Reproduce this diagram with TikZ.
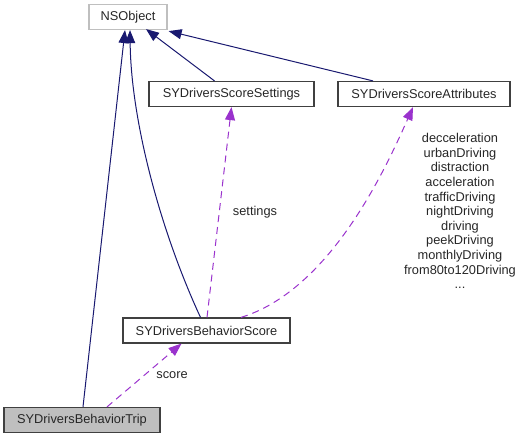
\documentclass[tikz,border=0pt]{standalone}
\usepackage{fontspec}
\setmainfont{Liberation Sans}
\usetikzlibrary{arrows.meta}
\definecolor{navyedge}{HTML}{191970}
\definecolor{purpedge}{HTML}{9A32CD}
\definecolor{tripfill}{HTML}{BFBFBF}
\definecolor{lightborder}{HTML}{BFBFBF}
\definecolor{boxborder}{HTML}{404040}
\begin{document}
\begin{tikzpicture}[x=1pt,y=-1pt,
  font=\fontsize{12.8}{14.6}\selectfont,
  cls/.style={draw=boxborder, line width=1.2pt, minimum height=25pt, inner sep=0pt, text=black!85},
  inh/.style={draw=navyedge, line width=1pt, -{Triangle[length=13pt,width=10pt]}},
  usage/.style={draw=purpedge, line width=1pt, dash pattern=on 7pt off 5pt, -{Triangle[length=13pt,width=10pt]}},
  lbl/.style={text=black!85, inner sep=0pt, align=center}]
\useasboundingbox (0,0) rectangle (521,439);
\node[cls, draw=lightborder, minimum width=78pt] (nsobj) at (128,17) {NSObject};
\node[cls, minimum width=165pt] (settings) at (231.5,94) {SYDriversScoreSettings};
\node[cls, minimum width=172pt] (attr) at (424,94) {SYDriversScoreAttributes};
\node[cls, minimum width=167pt] (bscore) at (206.5,330.5) {SYDriversBehaviorScore};
\node[cls, fill=tripfill, minimum width=156pt] (trip) at (82,420) {SYDriversBehaviorTrip};
% inheritance
\draw[inh] ([xshift=1pt]trip.north) -- ([xshift=-3pt]nsobj.south);
\draw[inh] ([xshift=-6pt]bscore.north) .. controls (160,230) and (131,120) .. ([xshift=2pt]nsobj.south);
\draw[inh] ([xshift=-17pt]settings.north) -- ([xshift=18pt,yshift=1pt]nsobj.south);
\draw[inh] ([xshift=-51pt]attr.north) -- ([xshift=1pt,yshift=-1pt]nsobj.south east);
% usage
\draw[usage] ([xshift=25pt]trip.north) -- ([xshift=-25pt]bscore.south);
\node[lbl] (lscore) at (172,375) {score};
\draw[usage] ([xshift=0.5pt]bscore.north) -- (settings.south);
\node[lbl] (lsettings) at (255,212) {settings};
\draw[usage] ([xshift=34.5pt]bscore.north) .. controls (330,290) and (385,170) .. ([xshift=-11pt]attr.south);
\node[lbl] (lattr) at (460,211) {decceleration\\urbanDriving\\distraction\\acceleration\\trafficDriving\\nightDriving\\driving\\peekDriving\\monthlyDriving\\from80to120Driving\\...};
\end{tikzpicture}
\end{document}
